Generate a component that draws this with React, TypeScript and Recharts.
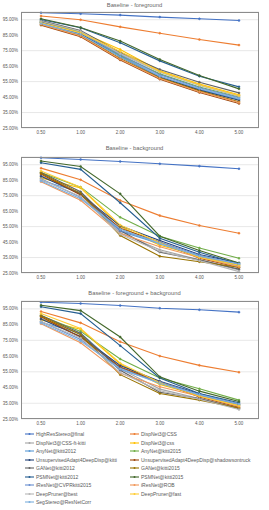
import React from "react";
import { LineChart, Line, XAxis, YAxis, CartesianGrid } from "recharts";

const categories = ["0.50", "1.00", "2.00", "3.00", "4.00", "5.00"];

const seriesNames = [
  "HighResStereo@final",
  "DispNet3@CSS",
  "DispNet3@CSS-ft-kitti",
  "DispNet3@css",
  "AnyNet@kitti2012",
  "AnyNet@kitti2015",
  "UnsupervisedAdapt4DeepDisp@kitti",
  "UnsupervisedAdapt4DeepDisp@shadowsontruck",
  "GANet@kitti2012",
  "GANet@kitti2015",
  "PSMNet@kitti2012",
  "PSMNet@kitti2015",
  "iResNet@CVPRkitti2015",
  "iResNet@ROB",
  "DeepPruner@best",
  "DeepPruner@fast",
  "SegStereo@ResNetCorr",
];

const colors = [
  "#4472C4", "#ED7D31", "#A5A5A5", "#FFC000", "#5B9BD5", "#70AD47",
  "#264478", "#9E480E", "#636363", "#997300", "#255E91", "#43682B",
  "#698ED0", "#F1975A", "#B7B7B7", "#FFCD33", "#7CAFDD",
];

// one row per series, in the order of seriesNames
const foreground = [
  [99.5, 98.9, 98.0, 96.7, 95.6, 94.5],
  [97.4, 95.0, 90.4, 86.3, 82.2, 78.6],
  [93.5, 87.5, 73.5, 61.5, 53.0, 46.0],
  [93.0, 87.0, 75.8, 62.0, 53.5, 46.5],
  [93.0, 86.0, 71.5, 58.5, 50.0, 43.5],
  [94.0, 87.0, 72.0, 60.0, 51.5, 45.0],
  [93.5, 86.0, 71.0, 58.0, 49.5, 43.0],
  [91.5, 84.0, 69.0, 56.5, 48.0, 40.8],
  [94.5, 88.0, 74.0, 62.8, 54.6, 47.7],
  [92.0, 85.0, 70.0, 57.5, 49.0, 42.0],
  [95.2, 89.8, 80.1, 68.4, 58.5, 51.6],
  [95.6, 90.0, 81.2, 69.3, 58.9, 50.3],
  [93.0, 86.5, 72.5, 59.5, 51.0, 44.5],
  [92.0, 84.5, 69.5, 57.0, 48.5, 41.5],
  [94.0, 87.5, 73.0, 61.0, 52.5, 45.5],
  [93.0, 86.5, 74.5, 61.5, 53.0, 46.0],
  [92.5, 85.5, 71.0, 58.5, 50.5, 44.0],
];

const background = [
  [99.5, 98.4, 97.1, 95.6, 94.1, 92.4],
  [92.8, 85.3, 71.9, 62.1, 55.7, 50.7],
  [88.0, 76.0, 51.0, 40.0, 33.5, 27.0],
  [86.5, 80.0, 55.0, 43.0, 36.0, 30.0],
  [85.0, 77.0, 52.0, 44.0, 35.5, 29.5],
  [90.0, 80.5, 61.0, 48.8, 41.2, 34.5],
  [87.5, 76.0, 55.5, 46.0, 37.0, 31.5],
  [89.0, 75.5, 54.0, 45.0, 34.5, 28.5],
  [90.0, 77.5, 52.5, 38.5, 33.5, 27.5],
  [89.5, 76.5, 49.2, 35.8, 32.3, 28.7],
  [96.3, 92.0, 70.4, 47.5, 38.4, 30.8],
  [97.4, 93.9, 76.2, 48.8, 39.5, 31.5],
  [86.0, 74.0, 52.5, 45.0, 36.5, 30.5],
  [84.0, 72.0, 50.5, 42.0, 35.0, 29.0],
  [85.5, 74.5, 50.0, 39.0, 33.0, 25.9],
  [91.0, 80.5, 56.0, 44.5, 35.0, 30.0],
  [84.5, 73.0, 53.5, 44.0, 36.0, 31.0],
];

const combined = [
  [99.2, 98.4, 97.1, 95.4, 94.4, 92.9],
  [93.3, 86.1, 74.1, 65.0, 59.1, 54.7],
  [89.0, 79.0, 57.0, 44.0, 38.0, 32.0],
  [88.0, 82.0, 60.0, 47.0, 40.0, 34.0],
  [86.5, 79.5, 57.5, 48.0, 40.0, 33.5],
  [90.6, 80.7, 63.1, 51.1, 44.2, 37.0],
  [88.5, 77.5, 59.0, 49.0, 41.0, 34.5],
  [90.0, 77.0, 58.0, 48.5, 39.0, 32.5],
  [91.0, 79.5, 56.0, 42.0, 38.0, 31.5],
  [90.5, 78.5, 53.2, 41.2, 37.0, 32.0],
  [96.3, 92.0, 71.6, 51.1, 41.2, 35.3],
  [97.3, 93.9, 77.1, 51.8, 42.7, 36.1],
  [87.0, 75.5, 56.5, 48.5, 40.5, 34.0],
  [85.5, 73.5, 54.0, 45.5, 39.5, 33.0],
  [87.0, 76.5, 54.5, 43.0, 37.5, 31.0],
  [92.0, 82.5, 60.5, 48.0, 39.5, 33.5],
  [86.0, 74.5, 57.0, 47.5, 40.5, 34.5],
];

const yTicks = [25, 35, 45, 55, 65, 75, 85, 95];

const FONT = "'Liberation Sans', Arial, sans-serif";
const TEXT = "#595959";

const toRows = (values: number[][]) =>
  categories.map((c, i) => {
    const row: Record<string, any> = { x: c };
    values.forEach((s, k) => (row["s" + k] = s[i]));
    return row;
  });

const Panel = ({ title, values, top, height, titleTop }: { title: string; values: number[][]; top: number; height: number; titleTop: number }) => {
  const data = toRows(values);
  const plotTop = 12;
  const plotBottom = height - 11;
  return (
    <div style={{ position: "absolute", left: 0, top, width: 269, height }}>
      <div
        style={{
          position: "absolute", top: titleTop, left: 0, width: 269, textAlign: "center",
          fontSize: 5.8, color: "#666", fontFamily: FONT, lineHeight: "8px",
        }}
      >
        {title}
      </div>
      <LineChart width={269} height={height} data={data} margin={{ top: plotTop, right: 10, bottom: 0, left: 0 }}>
        <CartesianGrid vertical={false} stroke="#D9D9D9" strokeWidth={0.6} />
        <XAxis
          dataKey="x"
          padding={{ left: 20, right: 20 }}
          height={11}
          axisLine={false}
          tickLine={false}
          tickSize={0}
          tickMargin={3}
          tick={{ fontSize: 4.5, fill: TEXT, fontFamily: FONT }}
        />
        <YAxis
          domain={[25, 100]}
          ticks={yTicks}
          width={21}
          axisLine={false}
          tickLine={false}
          tickSize={0}
          tickMargin={3}
          tickFormatter={(v: number) => v.toFixed(2) + "%"}
          tick={{ fontSize: 4.5, fill: TEXT, fontFamily: FONT }}
        />
        {seriesNames.map((n, k) => (
          <Line
            key={n}
            dataKey={"s" + k}
            name={n}
            stroke={colors[k]}
            strokeWidth={1.1}
            dot={{ r: 1, fill: colors[k], stroke: colors[k], strokeWidth: 0.5 }}
            isAnimationActive={false}
          />
        ))}
      </LineChart>
      <div
        style={{
          position: "absolute", left: 21, top: plotTop, width: 238, height: plotBottom - plotTop,
          border: "1px solid #8C8C8C", boxSizing: "border-box", pointerEvents: "none",
        }}
      />
    </div>
  );
};

const Legend = () => (
  <div style={{ position: "absolute", left: 0, top: 430, width: 269 }}>
    {seriesNames.map((n, k) => {
      const col = k % 2;
      const row = Math.floor(k / 2);
      return (
        <div
          key={n}
          style={{
            position: "absolute", left: col === 0 ? 25 : 130, top: row * 8.5, height: 8,
            display: "flex", alignItems: "center", fontSize: 5, color: TEXT, fontFamily: FONT, whiteSpace: "nowrap",
          }}
        >
          <svg width={10} height={6} style={{ marginRight: 1 }}>
            <line x1={0} y1={3} x2={9} y2={3} stroke={colors[k]} strokeWidth={1.1} />
            <circle cx={4.5} cy={3} r={1} fill={colors[k]} />
          </svg>
          {n}
        </div>
      );
    })}
  </div>
);

export default function App() {
  return (
    <div style={{ position: "absolute", left: 0, top: 0, width: 269, height: 510, background: "#fff" }}>
      <Panel title="Baseline - foreground" values={foreground} top={0} height={139} titleTop={1} />
      <Panel title="Baseline - background" values={background} top={145} height={139} titleTop={-1} />
      <Panel title="Baseline - foreground + background" values={combined} top={289} height={141} titleTop={0} />
      <Legend />
    </div>
  );
}
